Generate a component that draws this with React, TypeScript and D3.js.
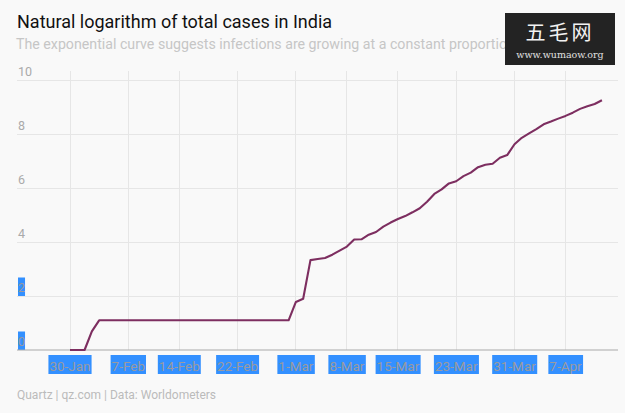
import React, { useEffect, useRef } from "react";
import * as d3 from "d3";

const title = "Natural logarithm of total cases in India";
const subtitle = "The exponential curve suggests infections are growing at a constant proportion";
const footer = "Quartz | qz.com | Data: Worldometers";

// daily dates from 30-Jan-2020 to 13-Apr-2020
const startDate = "2020-01-30";
const lnCases: number[] = [
  0, 0, 0, 0.69, 1.1, 1.1, 1.1, 1.1, 1.1, 1.1,
  1.1, 1.1, 1.1, 1.1, 1.1, 1.1, 1.1, 1.1, 1.1, 1.1,
  1.1, 1.1, 1.1, 1.1, 1.1, 1.1, 1.1, 1.1, 1.1, 1.1,
  1.1, 1.78, 1.9, 3.33, 3.37, 3.41, 3.53, 3.68, 3.83, 4.09,
  4.1, 4.27, 4.37, 4.57, 4.72, 4.85, 4.96, 5.1, 5.25, 5.49,
  5.78, 5.95, 6.17, 6.25, 6.44, 6.57, 6.77, 6.86, 6.9, 7.12,
  7.22, 7.62, 7.86, 8.02, 8.18, 8.36, 8.46, 8.57, 8.67, 8.79,
  8.93, 9.03, 9.11, 9.25,
];

const xTickDates = ["2020-01-30", "2020-02-07", "2020-02-14", "2020-02-22", "2020-03-01", "2020-03-08", "2020-03-15", "2020-03-23", "2020-03-31", "2020-04-07"];
const xTickLabels = ["30-Jan", "7-Feb", "14-Feb", "22-Feb", "1-Mar", "8-Mar", "15-Mar", "23-Mar", "31-Mar", "7-Apr"];
const yTicks = [0, 2, 4, 6, 8, 10];
const yHighlighted = [0, 2];

const W = 625;
const H = 413;
const FONT = "Roboto, 'Liberation Sans', Arial, sans-serif";

export default function App() {
  const ref = useRef<SVGSVGElement>(null);

  useEffect(() => {
    document.body.style.margin = "0";
    const svg = d3.select(ref.current);
    svg.selectAll("*").remove();

    const parse = d3.utcParse("%Y-%m-%d");
    const t0 = parse(startDate)!;
    const data = lnCases.map((v, i) => ({ date: d3.utcDay.offset(t0, i), v }));
    const tickDates = xTickDates.map((s) => parse(s)!);

    const left = 17, right = 618;
    const x = d3.scaleUtc().domain([tickDates[0], tickDates[tickDates.length - 1]]).range([70, 565.5]);
    const y = d3.scaleLinear().domain([0, 10]).range([350, 80]);

    svg.append("rect").attr("width", W).attr("height", H).attr("fill", "#f9f9f9");

    // horizontal grid
    svg.append("g").selectAll("line").data(yTicks.filter((d) => d > 0)).join("line")
      .attr("x1", left).attr("x2", right)
      .attr("y1", (d) => y(d)).attr("y2", (d) => y(d))
      .attr("stroke", "#e6e6e6").attr("stroke-width", 1).attr("shape-rendering", "crispEdges");

    // vertical grid
    svg.append("g").selectAll("line").data(tickDates).join("line")
      .attr("x1", (d) => x(d)).attr("x2", (d) => x(d))
      .attr("y1", 71).attr("y2", y(0))
      .attr("stroke", "#e6e6e6").attr("stroke-width", 1).attr("shape-rendering", "crispEdges");

    // y labels
    const yl = svg.append("g").selectAll("g").data(yTicks).join("g");
    yl.each(function (d) {
      const g = d3.select(this);
      const txt = g.append("text").attr("x", 18).attr("y", y(d) - 4)
        .attr("font-family", FONT).attr("font-size", 12.5).attr("fill", "#aaa").text(String(d));
      if (yHighlighted.includes(d)) {
        const bb = (txt.node() as SVGTextElement).getBBox();
        g.insert("rect", "text").attr("x", bb.x).attr("y", y(d) - 18.5).attr("width", bb.width).attr("height", 18.5)
          .attr("fill", "#3390ff");
        txt.attr("fill", "#9a9aa0");
      }
    });

    // axis line
    svg.append("line").attr("x1", left).attr("x2", right).attr("y1", y(0)).attr("y2", y(0))
      .attr("stroke", "#aaa").attr("stroke-width", 1.2);

    // x labels with selection highlight
    const xl = svg.append("g").selectAll("g").data(tickDates).join("g");
    xl.each(function (d, i) {
      const g = d3.select(this);
      const txt = g.append("text").attr("x", x(d)).attr("y", 370.5).attr("text-anchor", "middle")
        .attr("font-family", FONT).attr("font-size", 13.5).attr("fill", "#9a9aa0").text(xTickLabels[i]);
      const bb = (txt.node() as SVGTextElement).getBBox();
      g.insert("rect", "text").attr("x", bb.x - 1).attr("y", 355).attr("width", bb.width + 2).attr("height", 19)
        .attr("fill", "#3390ff");
    });

    // line
    const line = d3.line<{ date: Date; v: number }>().x((d) => x(d.date)).y((d) => y(d.v));
    svg.append("path").datum(data).attr("d", line).attr("fill", "none")
      .attr("stroke", "#7d2e60").attr("stroke-width", 2.1).attr("stroke-linejoin", "round");

    // title / subtitle / footer
    svg.append("text").attr("x", 17).attr("y", 28).attr("font-family", FONT).attr("font-size", 18)
      .attr("fill", "#111").text(title);
    svg.append("text").attr("x", 16).attr("y", 49).attr("font-family", FONT).attr("font-size", 14.2)
      .attr("fill", "#c6c6c6").text(subtitle);
    svg.append("text").attr("x", 17).attr("y", 399).attr("font-family", FONT).attr("font-size", 12)
      .attr("fill", "#bbb").text(footer);

    // watermark box
    const wm = svg.append("g");
    wm.append("rect").attr("x", 505).attr("y", 13).attr("width", 110).attr("height", 52).attr("fill", "#232323");
    wm.append("text").attr("x", 560).attr("y", 40).attr("text-anchor", "middle")
      .attr("font-family", "'Noto Sans CJK SC', serif").attr("font-size", 20).attr("fill", "#f2f2f2")
      .attr("letter-spacing", 3).text("五毛网");
    wm.append("text").attr("x", 560).attr("y", 58).attr("text-anchor", "middle")
      .attr("font-family", "'DejaVu Serif', 'Liberation Serif', serif").attr("font-size", 9.5).attr("fill", "#e0e0e0")
      .text("www.wumaow.org");
  }, []);

  return <svg ref={ref} width={W} height={H} style={{ display: "block" }} />;
}
